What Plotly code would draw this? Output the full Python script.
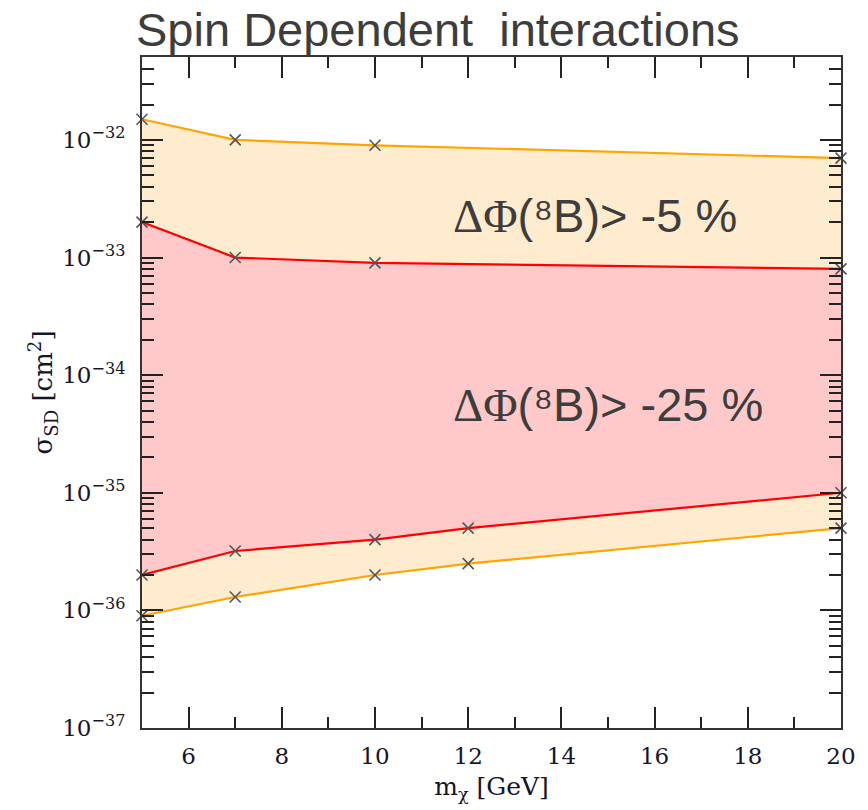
import plotly.graph_objects as go

# WIMP mass points (GeV) for each boundary curve
mass_upper = [5, 7, 10, 20]
mass_lower = [5, 7, 10, 12, 20]

# Spin-dependent cross sections (cm^2)
orange_upper = [1.5e-32, 1.0e-32, 9.0e-33, 7.0e-33]
red_upper = [2.0e-33, 1.0e-33, 9.0e-34, 8.0e-34]
red_lower = [2.0e-36, 3.2e-36, 4.0e-36, 5.0e-36, 1.0e-35]
orange_lower = [9.0e-37, 1.3e-36, 2.0e-36, 2.5e-36, 5.0e-36]

# Axis ticks
x_ticks = [6, 8, 10, 12, 14, 16, 18, 20]
y_exponents = [-37, -36, -35, -34, -33, -32]

ORANGE = "#FFA500"
RED = "#FF0000"
ORANGE_FILL = "#FFEBCD"
RED_FILL = "#FFC9C9"
MARK = "#555555"
TXT = "#3d3d3d"
INK = "#15152a"
TICK_FONT = dict(family="DejaVu Serif", size=23, color=INK)

marker = dict(symbol="x-thin", size=11, color=MARK, line=dict(color=MARK, width=1.6))

fig = go.Figure()

fig.add_trace(go.Scatter(x=mass_lower, y=orange_lower, mode="lines+markers",
                         line=dict(color=ORANGE, width=2.2), marker=marker,
                         cliponaxis=False, showlegend=False))
fig.add_trace(go.Scatter(x=mass_upper, y=orange_upper, mode="lines+markers",
                         line=dict(color=ORANGE, width=2.2), marker=marker,
                         fill="tonexty", fillcolor=ORANGE_FILL,
                         cliponaxis=False, showlegend=False))
fig.add_trace(go.Scatter(x=mass_lower, y=red_lower, mode="lines+markers",
                         line=dict(color=RED, width=2.2), marker=marker,
                         cliponaxis=False, showlegend=False))
fig.add_trace(go.Scatter(x=mass_upper, y=red_upper, mode="lines+markers",
                         line=dict(color=RED, width=2.2), marker=marker,
                         fill="tonexty", fillcolor=RED_FILL,
                         cliponaxis=False, showlegend=False))

y_tickvals = [10.0 ** e for e in y_exponents]
y_ticktext = ["10<sup>\u2212%d</sup>" % (-e) for e in y_exponents]
y_minor = [m * 10.0 ** e for e in range(-37, -31) for m in range(2, 10)]

fig.update_xaxes(
    range=[5, 20], tickvals=x_ticks, ticktext=[str(v) for v in x_ticks],
    ticks="inside", ticklen=21, tickwidth=1.6, tickcolor="#222",
    minor=dict(dtick=1, tick0=5, ticks="inside", ticklen=11, tickwidth=1.6, tickcolor="#222"),
    showline=True, linecolor="#333", linewidth=2, mirror="ticks",
    showgrid=False, zeroline=False, tickfont=TICK_FONT, ticklabelstandoff=6,
    title=dict(text="m<sub>\u03c7</sub> [GeV]", font=dict(family="DejaVu Serif", size=25, color=INK),
               standoff=10),
)
fig.update_yaxes(
    type="log", range=[-37, -31.295], tickvals=y_tickvals, ticktext=y_ticktext,
    ticks="inside", ticklen=21, tickwidth=1.6, tickcolor="#222",
    minor=dict(tickvals=y_minor, ticks="inside", ticklen=12, tickwidth=1.6, tickcolor="#222"),
    showline=True, linecolor="#333", linewidth=2, mirror="ticks",
    showgrid=False, zeroline=False, tickfont=TICK_FONT, ticklabelstandoff=10,
    title=dict(text="\u03c3<sub>SD</sub> [cm<sup>2</sup>]",
               font=dict(family="DejaVu Serif", size=26, color=INK), standoff=2),
)

greek = '<span style="font-family:Liberation Serif">\u0394\u03a6</span>'
fig.add_annotation(x=11.64, y=-32.646, xref="x", yref="y", xanchor="left", yanchor="middle",
                   text=greek + "(\u2078B)> -5 %", showarrow=False,
                   font=dict(family="Liberation Sans", size=47, color=TXT))
fig.add_annotation(x=11.64, y=-34.25, xref="x", yref="y", xanchor="left", yanchor="middle",
                   text=greek + "(\u2078B)> -25 %", showarrow=False,
                   font=dict(family="Liberation Sans", size=47, color=TXT))

fig.update_layout(
    width=868, height=810,
    margin=dict(l=142, r=21, t=57, b=82),
    paper_bgcolor="white", plot_bgcolor="white",
    title=dict(text="Spin Dependent\u00a0 interactions", x=136 / 868, xanchor="left",
               xref="container", y=1 - 30 / 810, yanchor="middle", yref="container",
               font=dict(family="Liberation Sans", size=47, color=TXT)),
)

fig.write_html("out.html")
